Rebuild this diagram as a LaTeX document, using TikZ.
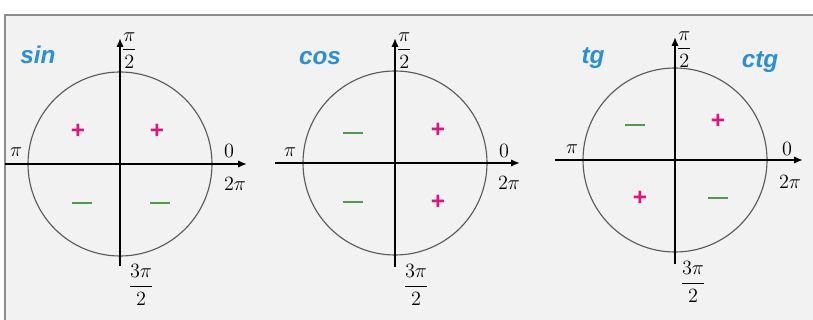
\documentclass[tikz,border=0pt]{standalone}
\usepackage{amsmath}
\usepackage{fontspec}
\newfontfamily\titlefont{Liberation Sans}
\usetikzlibrary{arrows.meta, positioning}

\definecolor{titleblue}{HTML}{2A8FD6}
\definecolor{plusred}{HTML}{E0157A}
\definecolor{minusgreen}{HTML}{4E9A4E}

\begin{document}
\begin{tikzpicture}[
    x=0.025cm, y=-0.025cm,
    axis/.style={line width=1.5pt, -{Latex[length=2.2mm, width=1.8mm]}},
    unit/.style={draw=black!65, line width=0.8pt},
    fname/.style={font=\titlefont\bfseries\itshape\LARGE, text=titleblue},
    plus/.style={font=\titlefont\bfseries\LARGE, text=plusred, inner sep=0pt},
    minus/.style={fill=minusgreen, minimum width=0.5cm, minimum height=1.8pt, inner sep=0pt},
    lbl/.style={font=\Large, inner sep=1pt}
]
    \useasboundingbox (0,0) rectangle (813,320);

    % Panel
    \fill[black!5] (5,15) rectangle (813,320);
    \draw[black!45, line width=1pt] (5,320) -- (5,15) -- (813,15);

    % sin circle
    \coordinate (c1) at (120,164);
    \coordinate (w1) at (5,164);
    \coordinate (e1) at (247,164);
    \coordinate (s1) at (120,266);
    \coordinate (n1) at (120,38);
    \draw[unit] (c1) circle (92);
    \draw[axis] (w1) -- (e1);
    \draw[axis] (s1) -- (n1);
    \node[fname] (t1) at (38,55) {sin};
    \node[lbl, right=0pt of n1, yshift=-9pt] (half1) {$\dfrac{\pi}{2}$};
    \node[lbl] (pi1) at (16,152) {$\pi$};
    \node[lbl] (zero1) at (229,151) {$0$};
    \node[lbl] (two1) at (235,184) {$2\pi$};
    \node[lbl] (three1) at (141,285) {$\dfrac{3\pi}{2}$};
    \node[plus] (p11) at (78,131) {+};
    \node[plus] (p12) at (157,131) {+};
    \node[minus] (m11) at (82,203) {};
    \node[minus] (m12) at (160,203) {};

    % cos circle
    \coordinate (c2) at (395,163);
    \coordinate (w2) at (275,163);
    \coordinate (e2) at (520,163);
    \coordinate (s2) at (395,267);
    \coordinate (n2) at (395,38);
    \draw[unit] (c2) circle (92);
    \draw[axis] (w2) -- (e2);
    \draw[axis] (s2) -- (n2);
    \node[fname] (t2) at (320,58) {cos};
    \node[lbl, right=0pt of n2, yshift=-9pt] (half2) {$\dfrac{\pi}{2}$};
    \node[lbl] (pi2) at (290,152) {$\pi$};
    \node[lbl] (zero2) at (504,151) {$0$};
    \node[lbl] (two2) at (509,183) {$2\pi$};
    \node[lbl] (three2) at (416,285) {$\dfrac{3\pi}{2}$};
    \node[minus] (m21) at (353,133) {};
    \node[plus] (p21) at (438,130) {+};
    \node[minus] (m22) at (353,202) {};
    \node[plus] (p22) at (438,202) {+};

    % tg and ctg circle
    \coordinate (c3) at (675,160);
    \coordinate (w3) at (555,160);
    \coordinate (e3) at (803,160);
    \coordinate (s3) at (675,264);
    \coordinate (n3) at (675,37);
    \draw[unit] (c3) circle (92);
    \draw[axis] (w3) -- (e3);
    \draw[axis] (s3) -- (n3);
    \node[fname] (t3) at (593,58) {tg};
    \node[fname] (t4) at (760,62) {ctg};
    \node[lbl, right=0pt of n3, yshift=-9pt] (half3) {$\dfrac{\pi}{2}$};
    \node[lbl] (pi3) at (572,149) {$\pi$};
    \node[lbl] (zero3) at (787,149) {$0$};
    \node[lbl] (two3) at (790,182) {$2\pi$};
    \node[lbl] (three3) at (693,282) {$\dfrac{3\pi}{2}$};
    \node[minus] (m31) at (635,125) {};
    \node[plus] (p31) at (718,121) {+};
    \node[plus] (p32) at (640,198) {+};
    \node[minus] (m32) at (718,198) {};
\end{tikzpicture}
\end{document}
